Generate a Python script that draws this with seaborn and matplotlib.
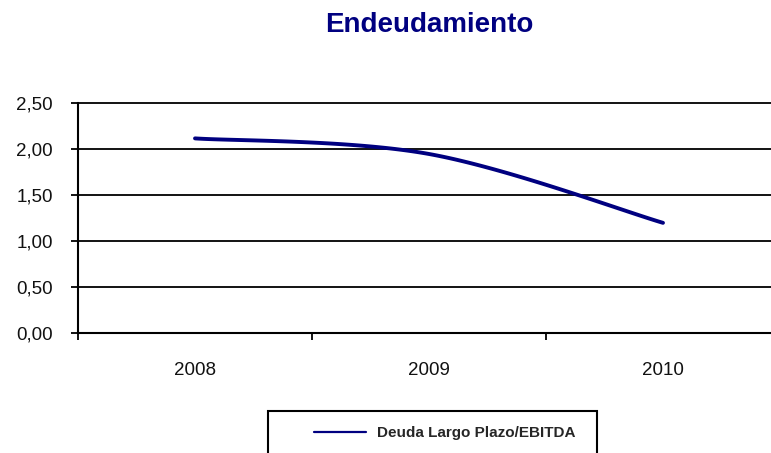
import numpy as np
import pandas as pd
import matplotlib
matplotlib.use("Agg")
import matplotlib.pyplot as plt
import seaborn as sns
from matplotlib.patches import Rectangle
from matplotlib.lines import Line2D
from matplotlib.ticker import FuncFormatter

years = ["2008", "2009", "2010"]
values = [2.12, 1.95, 1.20]
series_name = "Deuda Largo Plazo/EBITDA"
title = "Endeudamiento"
yticks = [0.0, 0.5, 1.0, 1.5, 2.0, 2.5]

sns.set_theme(style="white")
plt.rcParams['font.family'] = ['Liberation Sans', 'DejaVu Sans']

# Smoothed rendering (Catmull-Rom, like Excel's smoothed line) through the data points
x = np.arange(len(values), dtype=float)
y = np.array(values, dtype=float)
px = np.concatenate([[x[0]], x, [x[-1]]])
py = np.concatenate([[y[0]], y, [y[-1]]])
xs, ys = [], []
t = np.linspace(0, 1, 60)
for i in range(len(values) - 1):
    p0x, p1x, p2x, p3x = px[i], px[i + 1], px[i + 2], px[i + 3]
    p0y, p1y, p2y, p3y = py[i], py[i + 1], py[i + 2], py[i + 3]
    m1x, m2x = (p2x - p0x) / 2, (p3x - p1x) / 2
    m1y, m2y = (p2y - p0y) / 2, (p3y - p1y) / 2
    h00 = 2 * t**3 - 3 * t**2 + 1
    h10 = t**3 - 2 * t**2 + t
    h01 = -2 * t**3 + 3 * t**2
    h11 = t**3 - t**2
    xs.extend(h00 * p1x + h10 * m1x + h01 * p2x + h11 * m2x)
    ys.extend(h00 * p1y + h10 * m1y + h01 * p2y + h11 * m2y)
curve = pd.DataFrame({"x": xs, "y": ys})

fig = plt.figure(figsize=(7.71, 4.53), dpi=100)
ax = fig.add_axes([78 / 771, 1 - 333 / 453, (780 - 78) / 771, (333 - 103.5) / 453])

navy = "#000080"
sns.lineplot(data=curve, x="x", y="y", ax=ax, color=navy, linewidth=2.8,
             sort=False, estimator=None, legend=False)

ax.set_xlim(-0.5, 2.5)
ax.set_ylim(0, 2.5)
ax.set_yticks(yticks)
ax.yaxis.set_major_formatter(FuncFormatter(lambda v, p: f"{v:.2f}".replace(".", ",")))
ax.set_xticks([i - 0.5 for i in range(len(years) + 1)])
ax.set_xticklabels([])
ax.set_xticks(x, minor=True)
ax.set_xticklabels(years, minor=True)
ax.tick_params(axis="x", which="major", bottom=True, direction="out", length=5, width=1.3, color="black")
ax.tick_params(axis="x", which="minor", bottom=True, length=0, pad=21, labelsize=13.5, labelcolor="#111111")
ax.tick_params(axis="y", left=True, direction="out", length=5, width=1.3, color="black",
               labelsize=13.5, labelcolor="#111111", pad=13)
ax.set_xlabel("")
ax.set_ylabel("")
ax.grid(axis="y", color="black", linewidth=1.3)
for gl in ax.get_ygridlines():
    gl.set_clip_on(False)
ax.set_axisbelow(True)
for side in ["top", "right"]:
    ax.spines[side].set_visible(False)
for side in ["left", "bottom"]:
    ax.spines[side].set_color("black")
    ax.spines[side].set_linewidth(1.5)

fig.text(429 / 771, 1 - 25 / 453, title, ha="center", va="center",
         fontsize=20, fontweight="bold", color=navy)

# Legend box (clipped by bottom of figure like the reference)
fig.patches.append(Rectangle((268 / 771, -0.05), (597 - 268) / 771, 0.05 + 1 - 411.5 / 453,
                             transform=fig.transFigure, fill=False, edgecolor="black",
                             linewidth=1.5, figure=fig))
handle = Line2D([], [], color=navy, linewidth=1.6)
fig.legend([handle], [series_name], loc="center", bbox_to_anchor=(445 / 771, 1 - 433 / 453),
           frameon=False, handlelength=3.4, handletextpad=0.7,
           prop={"weight": "bold", "size": 11})

fig.savefig("out.png", dpi=100)
